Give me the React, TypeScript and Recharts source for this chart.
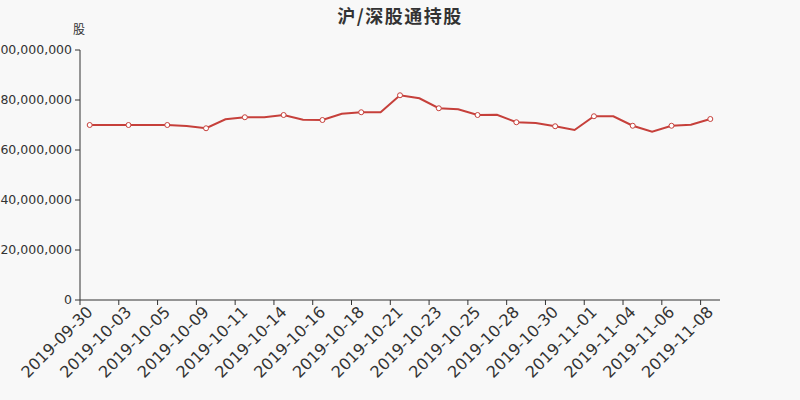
import React from 'react';
import { LineChart, Line, XAxis, YAxis } from 'recharts';

const dates = [
  '2019-09-30', '2019-10-01', '2019-10-03', '2019-10-04', '2019-10-05', '2019-10-08',
  '2019-10-09', '2019-10-10', '2019-10-11', '2019-10-12', '2019-10-14', '2019-10-15',
  '2019-10-16', '2019-10-17', '2019-10-18', '2019-10-19', '2019-10-21', '2019-10-22',
  '2019-10-23', '2019-10-24', '2019-10-25', '2019-10-26', '2019-10-28', '2019-10-29',
  '2019-10-30', '2019-10-31', '2019-11-01', '2019-11-02', '2019-11-04', '2019-11-05',
  '2019-11-06', '2019-11-07', '2019-11-08',
];

const holdings = [
  70000000, 70000000, 70000000, 70000000, 70000000, 69600000,
  68700000, 72300000, 73100000, 73100000, 74000000, 72100000,
  72000000, 74500000, 75100000, 75100000, 81900000, 80700000,
  76700000, 76300000, 74000000, 74100000, 71100000, 70800000,
  69500000, 68000000, 73500000, 73500000, 69700000, 67300000,
  69700000, 70100000, 72400000,
];

const yTicks = [0, 20000000, 40000000, 60000000, 80000000, 100000000];

const data = dates.map((d, i) => ({ date: d, v: holdings[i] }));

const FONT = '"DejaVu Sans", sans-serif';
const BAND = 640 / dates.length;
const RED = '#c6403b';

const XTick = (props: any) => {
  const { x, y, payload } = props;
  const tx = x - BAND / 2;
  const ay = y + 1;
  return (
    <g>
      <line x1={tx} y1={y - 8} x2={tx} y2={y - 3} stroke="#333" />
      <text
        x={x}
        y={ay}
        dy="0.35em"
        textAnchor="end"
        fill="#333"
        fontSize={16}
        fontFamily={FONT}
        transform={`rotate(-45, ${x}, ${ay})`}
      >
        {payload.value}
      </text>
    </g>
  );
};

const Dot = (props: any) => {
  const { cx, cy, index } = props;
  if (index % 2 !== 0) return <g key={index} />;
  return <circle key={index} cx={cx} cy={cy} r={2.5} fill="#fff" stroke={RED} strokeWidth={1} />;
};

export default function App() {
  return (
    <div style={{ position: 'fixed', left: 0, top: 0, width: 800, height: 400, background: '#f8f8f8', fontFamily: FONT }}>
      <div style={{ position: 'absolute', left: 0, width: 800, top: 2, textAlign: 'center', fontSize: 18, fontWeight: 'bold', color: '#333', letterSpacing: 1.5, fontFamily: '"Noto Sans CJK SC", sans-serif' }}>
        沪/深股通持股
      </div>
      <div style={{ position: 'absolute', left: 73, top: 20, fontSize: 12, color: '#333', fontFamily: '"Noto Sans CJK SC", sans-serif' }}>
        股
      </div>
      <LineChart width={800} height={400} data={data} margin={{ top: 50, right: 80, bottom: 0, left: 0 }}>
        <XAxis
          dataKey="date"
          interval={1}
          tickLine={false}
          tick={<XTick />}
          stroke="#333"
          height={100}
          padding={{ left: BAND / 2, right: BAND / 2 }}
        />
        <YAxis
          width={80}
          domain={[0, 100000000]}
          ticks={yTicks}
          tickFormatter={(v: number) => v.toLocaleString('en-US')}
          stroke="#333"
          tickSize={5}
          tickMargin={3}
          tick={{ fill: '#333', fontSize: 12.5, fontFamily: FONT }}
        />
        <Line
          type="linear"
          dataKey="v"
          stroke={RED}
          strokeWidth={2}
          dot={<Dot />}
          activeDot={false}
          isAnimationActive={false}
        />
      </LineChart>
    </div>
  );
}
